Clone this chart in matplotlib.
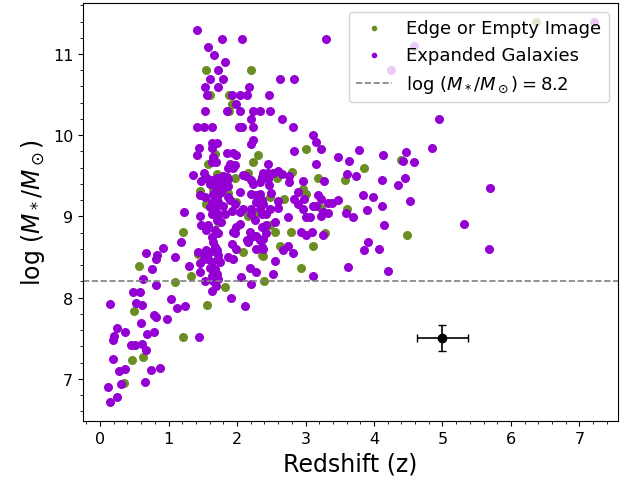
import numpy as np
import matplotlib
matplotlib.use("Agg")
import matplotlib.pyplot as plt
from matplotlib.ticker import AutoMinorLocator

# Sources flagged as edge / empty cutouts
edge_z = [0.49, 0.46, 0.63, 0.35, 1.21, 1.56, 1.82, 1.10, 2.39, 1.21, 0.57, 1.33,
          1.55, 2.20, 1.61, 1.88, 1.93, 1.88, 1.68, 2.30, 6.37, 3.00, 4.40, 4.48,
          3.86, 3.18, 3.58, 2.80, 2.97, 3.01, 2.68, 3.23, 3.60, 2.79, 3.29, 3.11,
          2.62, 2.93, 2.24, 1.57, 1.70, 2.16, 1.97, 1.46, 1.65, 1.87, 1.99, 1.55,
          2.26, 2.58, 2.48, 2.16, 1.72, 1.43, 2.09, 2.36, 2.48, 2.55, 2.38]
edge_mass = [7.84, 7.23, 7.27, 6.95, 7.52, 7.91, 8.13, 8.19, 8.21, 8.81, 8.39, 8.27,
             10.80, 10.80, 10.49, 10.49, 10.39, 10.30, 9.77, 9.76, 11.40, 9.83, 9.70, 8.77,
             9.60, 9.47, 9.45, 9.55, 9.34, 9.28, 9.22, 9.10, 9.09, 8.81, 8.79, 8.63,
             8.64, 8.37, 9.67, 9.64, 9.52, 9.54, 9.47, 9.31, 9.34, 9.29, 9.18, 9.15,
             9.04, 9.47, 9.24, 9.01, 8.93, 8.54, 8.56, 8.52, 8.89, 8.81, 8.51]

# Expanded galaxies
gal_z = [
    # low-z tail
    0.14, 0.48, 0.58, 0.53, 0.61, 0.82, 1.04, 1.13, 1.24, 0.59, 0.79, 0.82, 0.98,
    0.25, 0.21, 0.19, 0.37, 0.69, 0.79, 0.45, 0.51, 0.61, 0.67, 1.45, 0.19, 0.36,
    0.27, 0.74, 0.87, 0.31, 0.11, 0.66, 0.25, 0.15, 1.91, 2.11, 1.63, 1.69, 2.20,
    1.23, 0.92, 0.67, 0.83, 0.82, 1.18, 1.10, 0.76, 1.30, 0.62, 1.36,
    # high-mass end
    1.41, 1.78, 2.07, 1.57, 1.67, 1.82, 1.72, 1.60, 1.79, 1.53, 1.72, 2.18, 2.63,
    2.83, 1.56, 1.93, 2.04, 2.14, 2.46, 1.99, 1.53, 1.85, 2.04, 2.24, 2.33, 2.48,
    2.21, 2.66, 1.42, 1.52, 1.63, 2.03, 2.07, 2.24, 2.82, 2.23, 2.20, 1.63, 1.71,
    1.64, 1.44, 1.42, 1.85, 1.94, 1.99, 2.83,
    # z > 3
    3.30, 3.11, 3.15, 3.22, 3.78, 3.47, 4.13, 4.47, 4.84, 4.95, 4.59, 4.25, 7.22,
    4.42, 4.59, 4.45, 4.35, 5.69, 4.52, 5.32, 5.68,
    3.15, 3.63, 3.61, 3.73, 3.27, 2.96, 4.12, 2.65, 2.76, 2.76, 3.84, 3.98, 3.47,
    3.18, 3.23, 3.33, 3.38, 2.89, 2.83, 2.98, 2.89, 2.96, 3.11, 3.15, 3.90, 4.12,
    3.25, 3.33, 3.59, 3.70, 3.01, 3.06, 3.23, 2.74, 4.15, 2.93, 3.01, 3.09, 3.25,
    3.91, 3.86, 4.08, 2.67, 2.74, 2.82, 3.62, 4.20, 3.11,
    # core, z ~ 1.4-2.4
    1.65, 1.63, 1.69, 1.90, 1.97, 1.87, 1.94, 1.52, 1.53, 1.58, 1.48, 1.65, 1.70,
    1.75, 1.80, 1.85, 1.87, 1.60, 1.68, 1.75, 1.82, 1.87, 1.80, 2.09, 2.13, 2.20,
    2.23, 2.33, 2.04, 2.21, 2.28, 2.33, 1.46, 1.53, 1.65, 1.70, 1.75, 1.63, 1.72,
    1.80, 1.87, 1.90, 1.97, 1.60, 1.68, 2.09, 2.04, 2.21, 2.33, 2.28, 2.36,
    2.45, 2.38, 2.45, 2.53, 2.60, 2.36, 2.45, 2.47, 2.50, 2.60, 2.38, 2.48, 2.60,
    1.46, 1.63, 1.72, 1.82, 1.92, 2.21, 1.70, 1.77, 2.26, 1.48, 1.58, 1.99, 2.04,
    2.36, 1.55, 1.68, 1.72, 1.94, 1.97, 2.19, 2.21, 2.28, 1.63, 2.14, 2.16, 2.33,
    2.38, 1.65, 1.68, 1.92, 1.99, 2.28, 2.36, 1.43, 1.51, 1.55, 1.60, 1.70, 1.72,
    1.51, 1.58, 1.63, 1.72, 1.75, 1.87, 1.94, 1.46, 1.60, 1.68, 2.19, 2.28, 1.46,
    1.63, 1.70, 1.72, 2.06, 1.53, 1.65,
    2.36, 2.43, 2.43, 2.55, 2.43, 2.38, 2.55, 2.52,
]
gal_mass = [
    7.92, 8.07, 8.07, 7.93, 7.91, 8.16, 7.98, 7.87, 7.89, 7.69, 7.78, 7.76, 7.73,
    7.63, 7.53, 7.48, 7.58, 7.55, 7.58, 7.42, 7.41, 7.43, 7.36, 7.51, 7.24, 7.12,
    7.09, 7.11, 7.13, 6.93, 6.90, 6.96, 6.77, 6.71, 8.00, 7.90, 8.08, 8.14, 8.17,
    9.06, 8.61, 8.55, 8.53, 8.47, 8.69, 8.50, 8.35, 8.39, 8.23, 9.51,
    11.29, 11.19, 11.19, 11.09, 10.99, 10.90, 10.80, 10.69, 10.69, 10.59, 10.59, 10.59, 10.69,
    10.69, 10.49, 10.49, 10.49, 10.49, 10.49, 10.39, 10.30, 10.30, 10.30, 10.30, 10.30, 10.30,
    10.20, 10.20, 10.10, 10.10, 10.10, 10.10, 10.10, 10.10, 10.10, 9.94, 9.89, 9.90, 9.90,
    9.84, 9.84, 9.76, 9.78, 9.78, 9.75, 9.80,
    11.19, 10.00, 9.92, 9.83, 9.82, 9.73, 9.75, 9.79, 9.84, 10.20, 11.10, 10.80, 11.40,
    9.68, 9.67, 9.47, 9.39, 9.35, 9.19, 8.90, 8.60,
    9.65, 9.68, 9.52, 9.50, 9.44, 9.44, 9.45, 9.52, 9.50, 9.42, 9.26, 9.24, 9.20,
    9.26, 9.22, 9.17, 9.17, 9.30, 9.22, 9.22, 9.15, 9.09, 9.13, 9.13, 9.08, 9.13,
    9.06, 9.04, 9.04, 8.99, 8.99, 8.99, 9.00, 8.99, 8.89, 8.81, 8.77, 8.81, 8.77,
    8.68, 8.59, 8.60, 8.59, 8.64, 8.55, 8.38, 8.33, 8.26,
    9.73, 9.67, 9.67, 9.65, 9.63, 9.59, 9.59, 9.54, 9.50, 9.46, 9.43, 9.45, 9.47,
    9.46, 9.50, 9.48, 9.46, 9.40, 9.38, 9.40, 9.43, 9.38, 9.34, 9.51, 9.50, 9.45,
    9.40, 9.42, 9.30, 9.28, 9.26, 9.27, 9.26, 9.24, 9.28, 9.24, 9.29, 9.18, 9.18,
    9.13, 9.24, 9.20, 9.15, 9.11, 9.09, 9.09, 9.05, 9.09, 9.09, 9.18, 9.20,
    9.65, 9.54, 9.54, 9.54, 9.56, 9.48, 9.46, 9.39, 9.29, 9.19, 9.15, 9.09, 9.10,
    9.01, 9.03, 9.03, 9.03, 9.07, 9.03, 8.95, 8.93, 8.95, 8.89, 8.89, 8.87, 8.91,
    8.87, 8.83, 8.83, 8.79, 8.81, 8.79, 8.81, 8.74, 8.76, 8.74, 8.71, 8.68, 8.71,
    8.72, 8.68, 8.62, 8.66, 8.60, 8.60, 8.62, 8.56, 8.54, 8.58, 8.56, 8.58, 8.52,
    8.48, 8.48, 8.44, 8.48, 8.44, 8.50, 8.48, 8.42, 8.37, 8.35, 8.36, 8.31, 8.31,
    8.27, 8.29, 8.23, 8.25, 8.21, 8.21,
    9.03, 9.03, 8.89, 8.93, 8.79, 8.60, 8.45, 8.29,
]

mass_cut = 8.2

# typical uncertainty shown as a single representative point
err_z, err_mass = 5.0, 7.5
err_dz, err_dmass = 0.37, 0.16

fig = plt.figure(figsize=(6.24, 4.85), dpi=100)
ax = fig.add_axes([0.133, 0.130, 0.857, 0.862])

ax.scatter(edge_z, edge_mass, s=30, color="olivedrab", label="Edge or Empty Image")
ax.scatter(gal_z, gal_mass, s=30, color="darkviolet", label="Expanded Galaxies")
ax.axhline(mass_cut, color="gray", linestyle="--", linewidth=1.2,
           label=r"log $(M_*/M_\odot) = 8.2$")
ax.errorbar(err_z, err_mass, xerr=err_dz, yerr=err_dmass, fmt="o",
            color="black", markersize=6, capsize=3, elinewidth=1.2)

ax.set_xlim(-0.25, 7.56)
ax.set_ylim(6.48, 11.63)
ax.xaxis.set_minor_locator(AutoMinorLocator(5))
ax.yaxis.set_minor_locator(AutoMinorLocator(5))
ax.tick_params(axis="both", which="major", labelsize=11.5)

ax.set_xlabel("Redshift (z)", fontsize=17)
ax.set_ylabel(r"log $(M_*/M_\odot)$", fontsize=17)
ax.legend(loc="upper right", fontsize=13, markerscale=0.55)

fig.savefig("out.png", dpi=100)
